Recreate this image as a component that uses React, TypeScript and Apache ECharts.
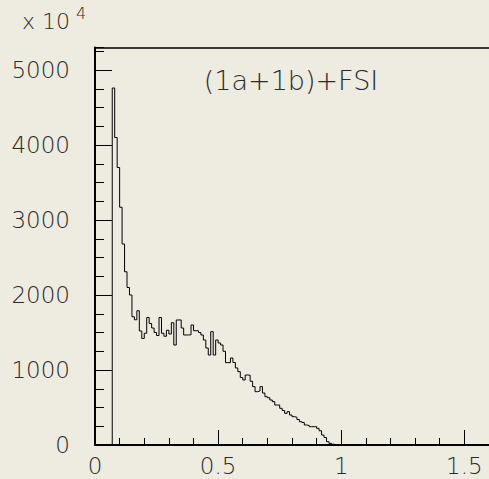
import { useEffect, useRef } from 'react';
import * as echarts from 'echarts';

// Histogram: bins of width 0.01 starting at x = 0.07 (counts)
const binStart = 0.07;
const binWidth = 0.01;
const counts = [
  4760, 4100, 3700, 3170, 2680, 2310, 2100, 2000, 1710, 1670,
  1790, 1520, 1420, 1490, 1700, 1620, 1560, 1500, 1460, 1700,
  1490, 1450, 1530, 1480, 1630, 1333, 1667, 1667, 1560, 1467,
  1467, 1470, 1600, 1524, 1524, 1500, 1467, 1400, 1293, 1200,
  1511, 1200, 1400, 1360, 1333, 1250, 1098, 1098, 1160, 1100,
  1027, 978, 900, 867, 933, 930, 850, 778, 711, 720,
  778, 693, 644, 630, 600, 578, 533, 533, 489, 460,
  422, 444, 400, 378, 370, 340, 311, 300, 267, 260,
  244, 244, 244, 222, 190, 133, 100, 44, 22, 10,
  5,
];

const xRange = [0, 1.6];
const yRange = [0, 5300];
const xMajorStep = 0.5;
const xMinorStep = 0.1;
const yMajorStep = 1000;
const yMinorStep = 250;

const titleText = '(1a+1b)+FSI';
const scaleText = 'x 10';
const scaleExp = '4';

const BG = '#eeebe0';
const FONT = '"DejaVu Sans", "Liberation Sans", sans-serif';
const TEXT_COLOR = '#2a2a2a';

function buildPath(): number[][] {
  const pts: number[][] = [[xRange[0], 0], [binStart, 0]];
  counts.forEach((c, i) => {
    const l = +(binStart + i * binWidth).toFixed(4);
    const r = +(binStart + (i + 1) * binWidth).toFixed(4);
    pts.push([l, c], [r, c]);
  });
  const end = +(binStart + counts.length * binWidth).toFixed(4);
  pts.push([end, 0]);
  return pts;
}

export default function App() {
  const ref = useRef<HTMLDivElement>(null);
  useEffect(() => {
    document.body.style.margin = '0';
    document.body.style.background = BG;
    const chart = echarts.init(ref.current!, undefined, { renderer: 'svg' });
    const labelStyle = { fontFamily: FONT, fontSize: 23, color: TEXT_COLOR, fontWeight: 200 };
    const hidden = { show: false };
    chart.setOption({
      animation: false,
      backgroundColor: BG,
      grid: {
        left: 95, top: 47.5, right: 0, bottom: 34, show: false,
        outerBoundsMode: 'none',
      },
      xAxis: [
        {
          type: 'value', min: xRange[0], max: xRange[1], interval: xMajorStep, position: 'bottom',
          axisLine: { show: true, onZero: false, lineStyle: { color: '#000', width: 2 } },
          axisTick: { show: true, inside: true, length: 15, lineStyle: { color: '#000', width: 1 } },
          splitLine: hidden,
          axisLabel: { ...labelStyle, margin: 9, showMaxLabel: false, formatter: (v: number) => String(v) },
        },
        {
          type: 'value', min: xRange[0], max: xRange[1], interval: xMinorStep, position: 'bottom',
          axisLine: { show: false, onZero: false },
          axisTick: { show: true, inside: true, length: 7, lineStyle: { color: '#000', width: 1 } },
          splitLine: hidden,
          axisLabel: hidden,
        },
        {
          type: 'value', min: xRange[0], max: xRange[1], position: 'top',
          axisLine: { show: true, onZero: false, lineStyle: { color: '#000', width: 1.5 } },
          axisTick: hidden, splitLine: hidden, axisLabel: hidden,
        },
      ],
      yAxis: [
        {
          type: 'value', min: yRange[0], max: yRange[1], interval: yMajorStep, position: 'left',
          axisLine: { show: true, onZero: false, lineStyle: { color: '#000', width: 2 } },
          axisTick: { show: true, inside: true, length: 17, lineStyle: { color: '#000', width: 1 } },
          splitLine: hidden,
          axisLabel: { ...labelStyle, margin: 25, showMaxLabel: false, formatter: (v: number) => String(v) },
        },
        {
          type: 'value', min: yRange[0], max: yRange[1], interval: yMinorStep, position: 'left',
          axisLine: { show: false, onZero: false },
          axisTick: { show: true, inside: true, length: 9, lineStyle: { color: '#000', width: 1 } },
          splitLine: hidden,
          axisLabel: hidden,
        },
      ],
      graphic: [
        {
          type: 'text', left: 22, top: 10,
          style: { text: scaleText, font: `200 22px ${FONT}`, fill: TEXT_COLOR },
        },
        {
          type: 'text', left: 76, top: 5,
          style: { text: scaleExp, font: `200 16px ${FONT}`, fill: TEXT_COLOR },
        },
        {
          type: 'text', x: 291, y: 80,
          style: { text: titleText, font: `200 27px ${FONT}`, fill: TEXT_COLOR, align: 'center', verticalAlign: 'middle' },
        },
        {
          type: 'rect', silent: true, z: 100,
          shape: { x: 482, y: 50, width: 8, height: 386 },
          style: { fill: BG },
        },
      ],
      series: [
        {
          type: 'line', xAxisIndex: 0, yAxisIndex: 0, data: buildPath(),
          showSymbol: false, symbol: 'none',
          lineStyle: { color: '#000', width: 1 },
        },
      ],
    });
    return () => chart.dispose();
  }, []);
  return <div ref={ref} style={{ width: 489, height: 479 }} />;
}
